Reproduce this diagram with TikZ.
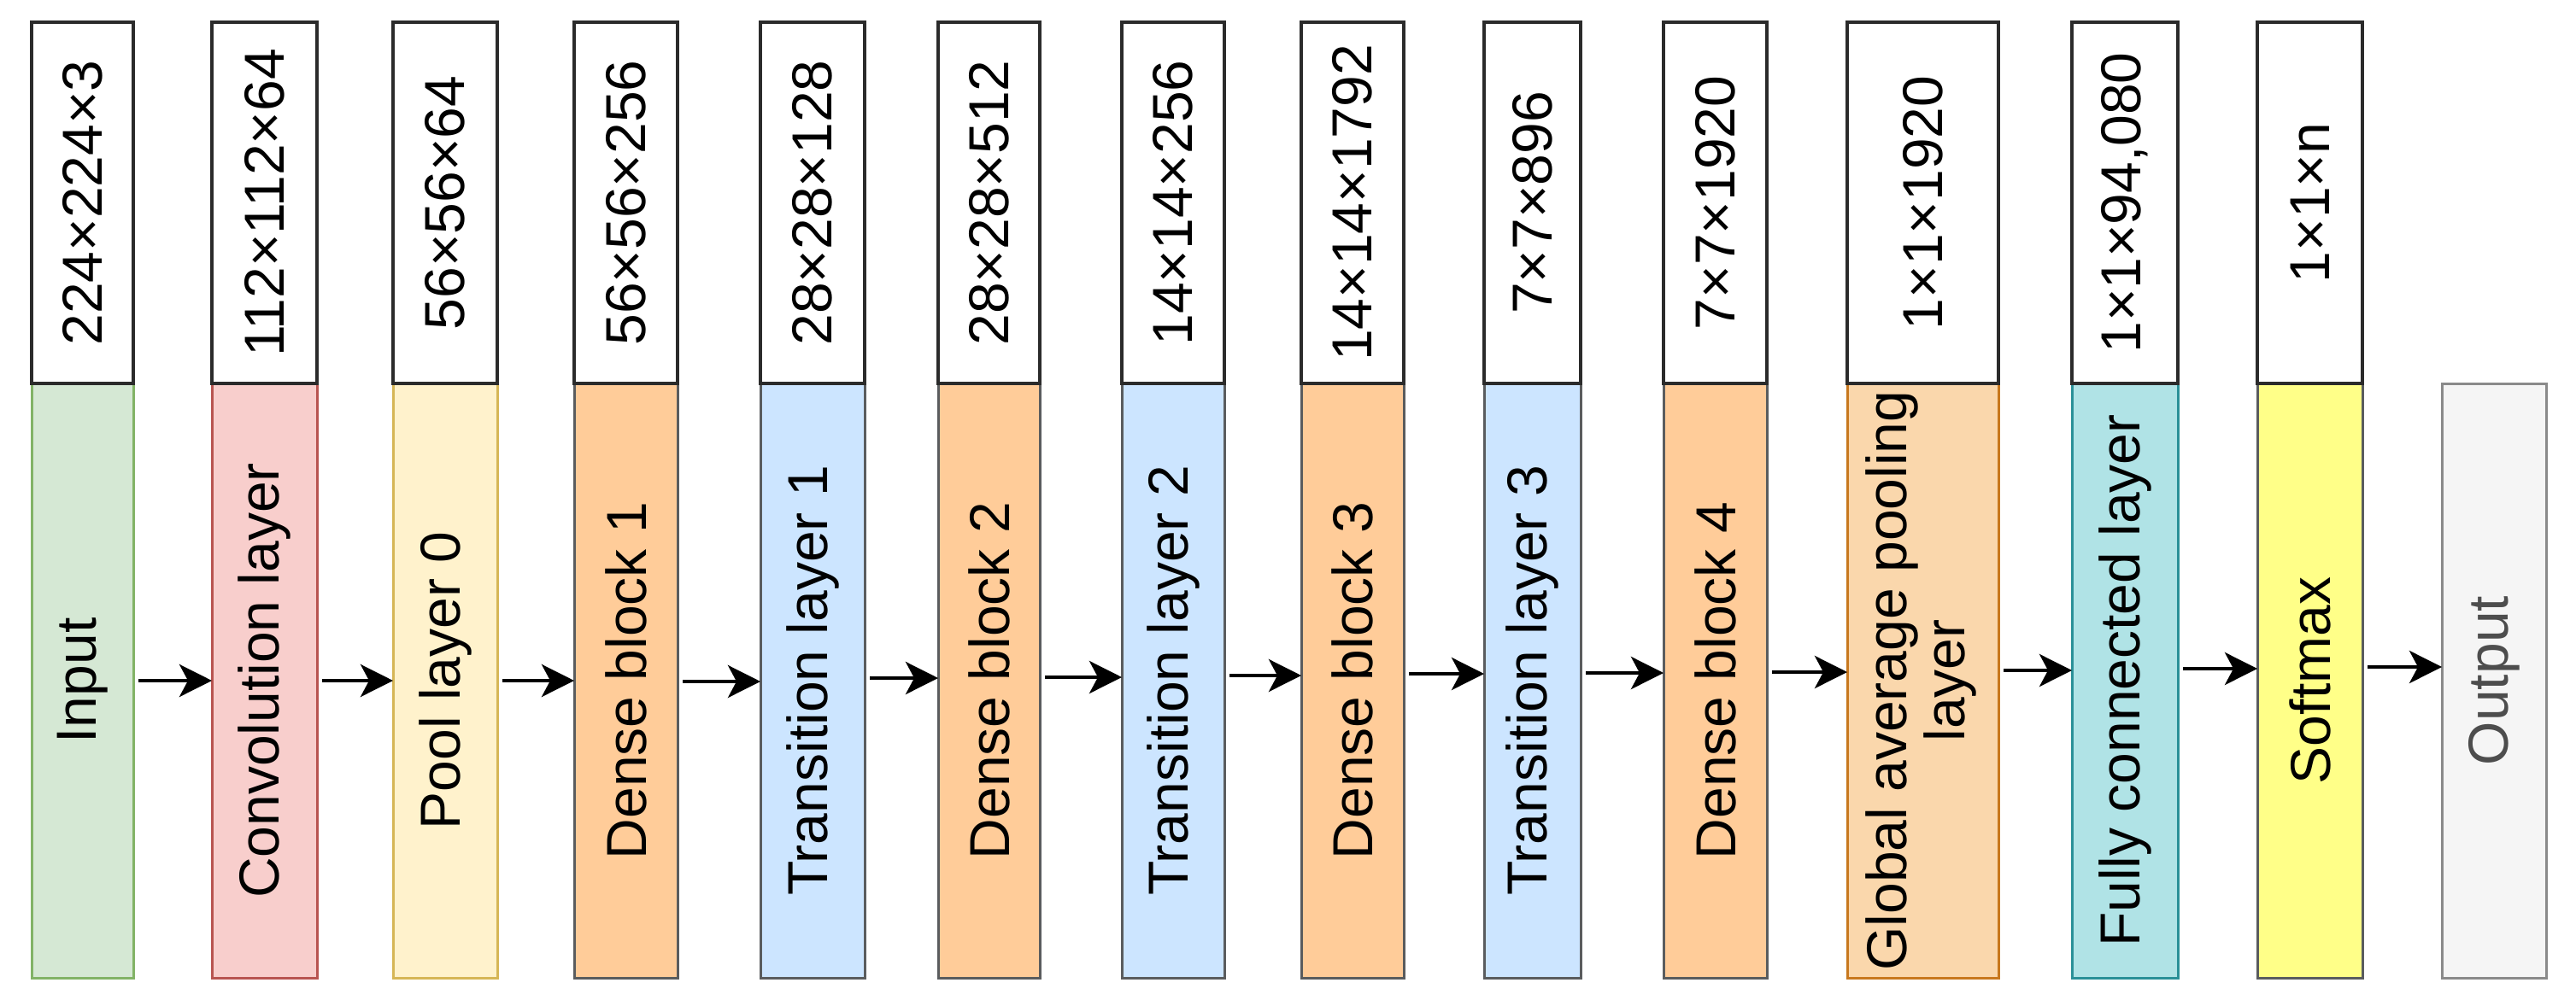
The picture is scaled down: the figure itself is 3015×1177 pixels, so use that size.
\documentclass[tikz,border=0pt]{standalone}
\usepackage{fontspec}
\setmainfont{Liberation Sans}
\usetikzlibrary{arrows.meta}
\definecolor{inF}{HTML}{D5E8D4}\definecolor{inD}{HTML}{82B366}
\definecolor{cvF}{HTML}{F8CECC}\definecolor{cvD}{HTML}{B85450}
\definecolor{plF}{HTML}{FFF2CC}\definecolor{plD}{HTML}{D6B656}
\definecolor{dbF}{HTML}{FFCC99}\definecolor{dkD}{HTML}{5A5C5E}
\definecolor{trF}{HTML}{CCE5FF}
\definecolor{gaF}{HTML}{FAD7AC}\definecolor{gaD}{HTML}{C8781E}
\definecolor{fcF}{HTML}{B0E3E6}\definecolor{fcD}{HTML}{2A9098}
\definecolor{smF}{HTML}{FFFF88}
\definecolor{ouF}{HTML}{F5F5F5}\definecolor{ouD}{HTML}{8A8A8A}\definecolor{ouT}{HTML}{4D4D4D}
\definecolor{lbD}{HTML}{2B2B2B}
\newcommand\mkbox[7]{%
  \pgfmathsetmacro\cx{(#2+#3)/2}\pgfmathsetmacro\cy{(#4+#5)/2}%
  \pgfmathsetmacro\ww{(#3-#2)*0.25}\pgfmathsetmacro\hh{(#5-#4)*0.25}%
  \node[#6, minimum width=\ww pt, minimum height=\hh pt] (#1) at (\cx,\cy) {\rotatebox{90}{#7}};}
\begin{document}
\begin{tikzpicture}[x=0.25pt,y=-0.25pt,
  every node/.style={inner sep=0pt, outer sep=0pt, font=\fontsize{16.5}{19}\selectfont},
  layerbox/.style={draw, line width=0.75pt},
  dimbox/.style={draw=lbD, fill=white, line width=1pt},
  arr/.style={line width=1.1pt, -{Stealth[length=9.5pt, width=9.5pt, inset=2.5pt]}},
  inS/.style={layerbox, fill=inF, draw=inD},
  cvS/.style={layerbox, fill=cvF, draw=cvD},
  plS/.style={layerbox, fill=plF, draw=plD},
  dbS/.style={layerbox, fill=dbF, draw=dkD},
  trS/.style={layerbox, fill=trF, draw=dkD},
  gaS/.style={layerbox, fill=gaF, draw=gaD},
  fcS/.style={layerbox, fill=fcF, draw=fcD},
  smS/.style={layerbox, fill=smF, draw=dkD},
  ouS/.style={layerbox, fill=ouF, draw=ouD, text=ouT}]
\useasboundingbox (0,0) rectangle (3015,1177);
% layer boxes
\mkbox{in}{37}{156}{449}{1145}{inS}{Input}
\mkbox{cv}{248}{371}{449}{1145}{cvS}{Convolution layer}
\mkbox{pl}{460}{582}{449}{1145}{plS}{Pool layer 0}
\mkbox{d1}{672}{793}{449}{1145}{dbS}{Dense block 1}
\mkbox{t1}{890}{1012}{449}{1145}{trS}{Transition layer 1}
\mkbox{d2}{1098}{1217}{449}{1145}{dbS}{Dense block 2}
\mkbox{t2}{1313}{1433}{449}{1145}{trS}{Transition layer 2}
\mkbox{d3}{1523}{1643}{449}{1145}{dbS}{Dense block 3}
\mkbox{t3}{1737}{1850}{449}{1145}{trS}{Transition layer 3}
\mkbox{d4}{1947}{2068}{449}{1145}{dbS}{Dense block 4}
\mkbox{ga}{2162}{2339}{449}{1145}{gaS}{\begin{tabular}{@{}c@{}}Global average pooling\\[-2pt]layer\end{tabular}}
\mkbox{fc}{2425}{2549}{449}{1145}{fcS}{Fully connected layer}
\mkbox{sm}{2642}{2765}{449}{1145}{smS}{Softmax}
\mkbox{ou}{2858}{2980}{449}{1145}{ouS}{Output}
% dimension boxes
\mkbox{inL}{37}{156}{26}{449}{dimbox}{224×224×3}
\mkbox{cvL}{248}{371}{26}{449}{dimbox}{112×112×64}
\mkbox{plL}{460}{582}{26}{449}{dimbox}{56×56×64}
\mkbox{d1L}{672}{793}{26}{449}{dimbox}{56×56×256}
\mkbox{t1L}{890}{1012}{26}{449}{dimbox}{28×28×128}
\mkbox{d2L}{1098}{1217}{26}{449}{dimbox}{28×28×512}
\mkbox{t2L}{1313}{1433}{26}{449}{dimbox}{14×14×256}
\mkbox{d3L}{1523}{1643}{26}{449}{dimbox}{14×14×1792}
\mkbox{t3L}{1737}{1850}{26}{449}{dimbox}{7×7×896}
\mkbox{d4L}{1947}{2068}{26}{449}{dimbox}{7×7×1920}
\mkbox{gaL}{2162}{2339}{26}{449}{dimbox}{1×1×1920}
\mkbox{fcL}{2425}{2549}{26}{449}{dimbox}{1×1×94,080}
\mkbox{smL}{2642}{2765}{26}{449}{dimbox}{1×1×n}
% connectors (dy in px, positive = up)
\foreach \a/\b/\dy in {in/cv/0, cv/pl/0, pl/d1/0, d1/t1/-1, t1/d2/3, d2/t2/4, t2/d3/6, d3/t3/8, t3/d4/9, d4/ga/10, ga/fc/12, fc/sm/14, sm/ou/16}
  \draw[arr] ([xshift=1.5pt, yshift=0.25*\dy pt]\a.east) -- ([yshift=0.25*\dy pt]\b.west);
\end{tikzpicture}
\end{document}
